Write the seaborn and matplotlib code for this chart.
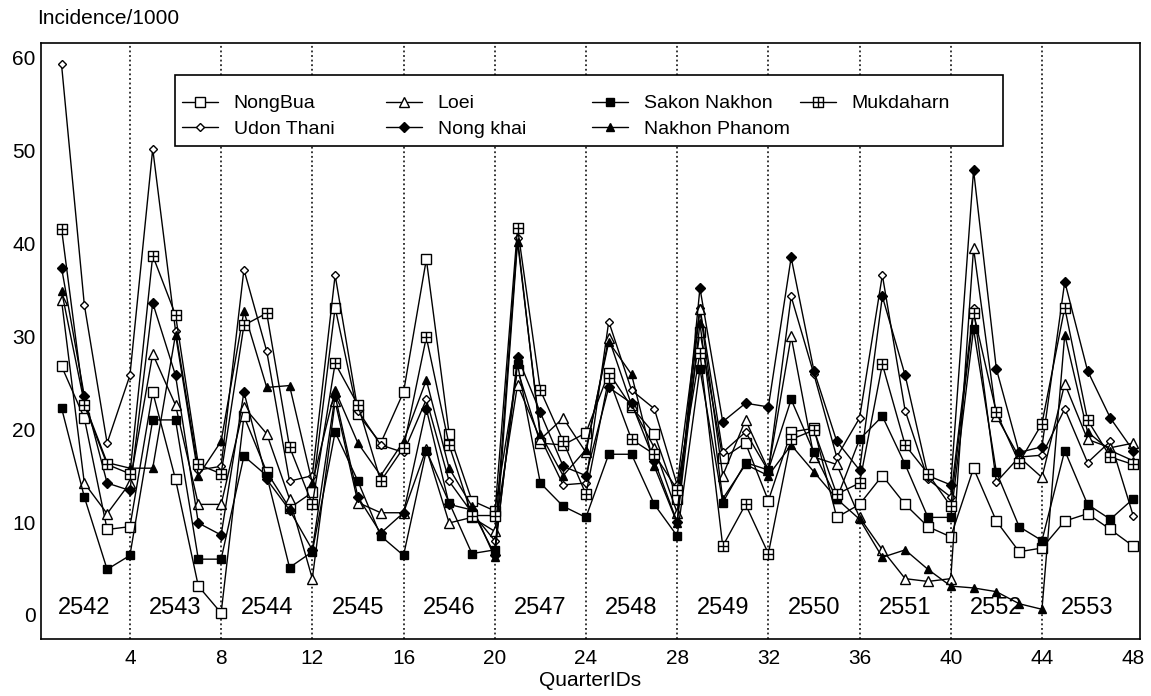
import numpy as np
import pandas as pd
import matplotlib
matplotlib.use("Agg")
import matplotlib.pyplot as plt
from matplotlib.path import Path
from matplotlib.patches import Rectangle
from matplotlib.legend import Legend
import seaborn as sns

# ---------------- data ----------------
quarters = list(range(1, 49))
provinces = ["NongBua", "Udon Thani", "Loei", "Nong khai",
             "Sakon Nakhon", "Nakhon Phanom", "Mukdaharn"]

nongbua = [26.8, 21.2, 9.2, 9.5, 24.0, 14.6, 3.1, 0.2, 21.4, 15.4, 11.5, 13.2,
           33.1, 21.6, 18.5, 24.0, 38.3, 19.5, 12.3, 11.2, 26.4, 18.5, 18.3, 19.6,
           26.1, 22.4, 19.5, 12.5, 30.5, 16.9, 18.5, 12.3, 19.7, 20.1, 10.5, 11.9,
           15.0, 11.9, 9.5, 8.4, 15.8, 10.1, 6.8, 7.2, 10.1, 10.9, 9.2, 7.4]
udon = [59.3, 33.4, 18.5, 25.8, 50.2, 30.6, 15.6, 16.0, 37.2, 28.4, 14.4, 15.0,
        36.6, 22.0, 18.3, 17.5, 23.2, 14.4, 11.0, 8.0, 40.6, 19.1, 14.0, 14.2,
        31.6, 24.2, 22.2, 14.0, 33.1, 17.5, 19.7, 15.5, 34.3, 25.9, 17.0, 21.2,
        36.6, 22.0, 14.6, 12.7, 33.1, 14.3, 17.0, 17.2, 22.2, 16.4, 18.7, 10.7]
loei = [33.9, 14.2, 10.9, 14.2, 28.1, 22.6, 11.9, 11.9, 22.4, 19.5, 12.5, 3.9,
        23.0, 12.1, 11.0, 11.0, 17.9, 9.9, 10.5, 9.0, 24.8, 18.9, 21.2, 17.5,
        29.8, 22.6, 18.0, 11.0, 32.9, 15.0, 21.0, 15.6, 30.0, 17.0, 16.2, 10.5,
        7.0, 3.9, 3.6, 3.9, 39.5, 21.4, 17.0, 14.8, 24.9, 18.9, 18.0, 18.5]
nongkhai = [37.4, 23.6, 14.2, 13.4, 33.6, 25.8, 9.9, 8.6, 24.0, 14.6, 11.3, 7.0,
            23.6, 12.7, 8.8, 11.0, 22.2, 11.9, 11.3, 6.5, 27.8, 21.8, 16.0, 15.0,
            24.5, 22.8, 16.6, 10.0, 35.2, 20.8, 22.8, 22.4, 38.5, 26.3, 18.7, 15.6,
            34.3, 25.8, 15.0, 14.0, 47.9, 26.5, 17.5, 18.1, 35.9, 26.3, 21.2, 17.7]
sakon = [22.3, 12.7, 4.9, 6.4, 21.0, 21.0, 6.0, 6.0, 17.1, 15.0, 5.1, 6.8,
         19.7, 14.4, 8.5, 6.4, 17.7, 12.1, 6.6, 7.0, 27.0, 14.2, 11.7, 10.5,
         17.3, 17.3, 11.9, 8.5, 26.5, 12.1, 16.4, 15.6, 23.2, 17.5, 12.5, 18.9,
         21.4, 16.2, 10.5, 10.5, 30.8, 15.4, 9.5, 8.0, 17.7, 11.9, 10.3, 12.5]
nakhon = [34.9, 22.8, 16.4, 15.8, 15.8, 30.2, 15.0, 18.7, 32.7, 24.5, 24.7, 14.2,
          24.2, 18.5, 15.0, 18.7, 25.3, 15.8, 11.7, 6.2, 40.2, 19.5, 15.0, 17.8,
          29.4, 25.9, 16.0, 9.9, 31.4, 12.5, 16.2, 15.0, 18.3, 15.4, 12.5, 10.3,
          6.2, 7.0, 4.9, 3.1, 2.9, 2.5, 1.2, 0.6, 30.2, 19.7, 17.7, 16.6]
mukdaharn = [41.6, 22.6, 16.2, 15.2, 38.7, 32.3, 16.2, 15.2, 31.2, 32.5, 18.1, 11.9,
             27.1, 22.6, 14.4, 18.0, 29.9, 18.3, 10.7, 10.7, 41.7, 24.2, 18.7, 13.0,
             25.5, 18.9, 17.3, 13.5, 28.2, 7.4, 11.9, 6.6, 18.9, 19.9, 13.0, 14.2,
             27.0, 18.3, 15.2, 11.7, 32.5, 21.8, 16.4, 20.6, 33.1, 21.0, 17.0, 16.2]

year_labels = ["2542", "2543", "2544", "2545", "2546", "2547",
               "2548", "2549", "2550", "2551", "2552", "2553"]
x_ticks = [4, 8, 12, 16, 20, 24, 28, 32, 36, 40, 44, 48]
y_ticks = [0, 10, 20, 30, 40, 50, 60]

series = [nongbua, udon, loei, nongkhai, sakon, nakhon, mukdaharn]

# ---------------- style ----------------
sns.set_style("white")
plt.rcParams["font.family"] = ["Liberation Sans", "DejaVu Sans"]
plt.rcParams["text.color"] = "black"
plt.rcParams["axes.labelcolor"] = "black"
plt.rcParams["xtick.color"] = "black"
plt.rcParams["ytick.color"] = "black"

sq_plus = Path(
    [(-1, -1), (1, -1), (1, 1), (-1, 1), (-1, -1),
     (-1, 0), (1, 0), (0, -1), (0, 1)],
    [Path.MOVETO, Path.LINETO, Path.LINETO, Path.LINETO, Path.CLOSEPOLY,
     Path.MOVETO, Path.LINETO, Path.MOVETO, Path.LINETO])

styles = [
    dict(marker="s", markersize=6.5, markerfacecolor="white"),
    dict(marker="D", markersize=4.0, markerfacecolor="white"),
    dict(marker="^", markersize=7.5, markerfacecolor="white"),
    dict(marker="D", markersize=4.8, markerfacecolor="black"),
    dict(marker="s", markersize=6.0, markerfacecolor="black"),
    dict(marker="^", markersize=5.5, markerfacecolor="black"),
    dict(marker=sq_plus, markersize=7.0, markerfacecolor="white"),
]

fig = plt.figure(figsize=(11.51, 6.96), dpi=100)
ax = fig.add_axes([41 / 1151, 1 - 639 / 696, 1099 / 1151, 596 / 696])

for xv in x_ticks[:-1]:
    ax.axvline(xv, color="black", linestyle=(0, (1.2, 1.8)), linewidth=1.1, zorder=1)

for name, vals, st in zip(provinces, series, styles):
    df = pd.DataFrame({"QuarterIDs": quarters, "value": vals})
    sns.lineplot(data=df, x="QuarterIDs", y="value", ax=ax, color="black",
                 linewidth=1.0, markeredgecolor="black", markeredgewidth=1.0,
                 errorbar=None, label=name, zorder=3, **st)

for i, yl in enumerate(year_labels):
    ax.text(2 + 4 * i, 0.7, yl, ha="center", va="center", fontsize=17, zorder=5)

ax.set_xlim(0.1, 48.3)
ax.set_ylim(-2.6, 61.6)
ax.set_xticks(x_ticks)
ax.set_xticks(quarters, minor=True)
ax.set_yticks(y_ticks)
ax.tick_params(axis="both", which="both", direction="in", length=7.5,
               width=1.0, color="black", labelsize=15, labelcolor="black")
ax.tick_params(axis="x", which="both", pad=7)
ax.tick_params(axis="y", pad=4)
for s in ax.spines.values():
    s.set_color("black")
    s.set_linewidth(1.2)

ax.set_ylabel("")
ax.set_xlabel("QuarterIDs", fontsize=15, labelpad=2)
fig.text(37 / 1151, 1 - 18 / 696, "Incidence/1000", ha="left", va="center", fontsize=15)

# ---------------- legend (R-style equal-width columns) ----------------
handles, labels = ax.get_legend_handles_labels()
if ax.get_legend() is not None:
    ax.get_legend().remove()

def ax_x(px):
    return (px - 41) / 1099

def ax_y(py):
    return (639 - py) / 596

frame = Rectangle((ax_x(175), ax_y(146)), ax_x(1003) - ax_x(175), ax_y(75) - ax_y(146),
                  transform=ax.transAxes, facecolor="white", edgecolor="black",
                  linewidth=1.2, zorder=6)
ax.add_patch(frame)

col_px = [182, 386, 592, 800]
groups = [[0, 1], [2, 3], [4, 5], [6]]
fs = 14
em = fs * 100 / 72
for cx, grp in zip(col_px, groups):
    lg = Legend(ax, [handles[i] for i in grp], [labels[i] for i in grp],
                loc="upper left", bbox_to_anchor=(ax_x(cx - 0.3 * em), ax_y(89)),
                bbox_transform=ax.transAxes,
                borderaxespad=0, borderpad=0.3, frameon=False, fontsize=fs,
                handlelength=1.85, handletextpad=0.8, labelspacing=0.4)
    lg.set_zorder(7)
    ax.add_artist(lg)

fig.savefig("out.png", dpi=100, facecolor="white")
